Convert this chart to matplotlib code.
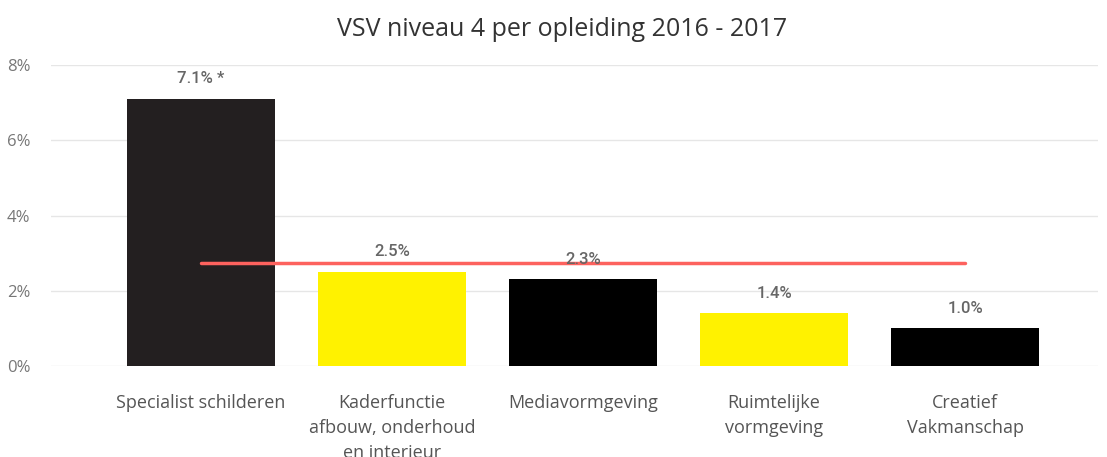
import matplotlib
matplotlib.use("Agg")
import matplotlib.pyplot as plt

categories = ["Specialist schilderen", "Kaderfunctie\nafbouw, onderhoud\nen interieur",
              "Mediavormgeving", "Ruimtelijke\nvormgeving", "Creatief\nVakmanschap"]
values = [7.1, 2.5, 2.3, 1.4, 1.0]
value_labels = ["7.1% *", "2.5%", "2.3%", "1.4%", "1.0%"]
bar_colors = ["#231F20", "#FFF200", "#000000", "#FFF200", "#000000"]
benchmark = 2.75
yticks = [0, 2, 4, 6, 8]
ytick_labels = ["0%", "2%", "4%", "6%", "8%"]
title = "VSV niveau 4 per opleiding 2016 - 2017"

plt.rcParams['font.family'] = ['Open Sans', 'DejaVu Sans']

W, H = 1107, 457
fig = plt.figure(figsize=(W / 100, H / 100), dpi=100)
ax = fig.add_axes([51 / W, (H - 366) / H, (1098 - 51) / W, (366 - 65) / H])

x = list(range(len(categories)))
ax.bar(x, values, width=0.775, color=bar_colors, zorder=2)
ax.plot([x[0], x[-1]], [benchmark, benchmark], color="#FD625E", lw=2.5, zorder=3,
        solid_capstyle="round")

for xi, v, lab in zip(x, values, value_labels):
    ax.annotate(lab, (xi, v), xytext=(0, 9), textcoords="offset points",
                ha="center", va="bottom", fontsize=12, color="#666666", zorder=4,
                family=["Roboto", "DejaVu Sans"], weight="medium")

ax.set_xlim(-0.785, 4.696)
ax.set_ylim(0, 8)
ax.set_yticks(yticks)
ax.set_yticklabels(ytick_labels, fontsize=12, color="#777777")
ax.set_xticks(x)
ax.set_xticklabels(categories, fontsize=13, color="#555555", linespacing=1.5, va="top")
ax.tick_params(axis="both", length=0)
ax.tick_params(axis="y", pad=15)
ax.tick_params(axis="x", pad=20)
ax.grid(axis="y", color="#E6E6E6", lw=1, zorder=0)
for s in ax.spines.values():
    s.set_visible(False)

fig.text(562 / W, 1 - 30 / H, title, ha="center", va="center", fontsize=18, color="#333333")

fig.savefig("out.png", dpi=100)
